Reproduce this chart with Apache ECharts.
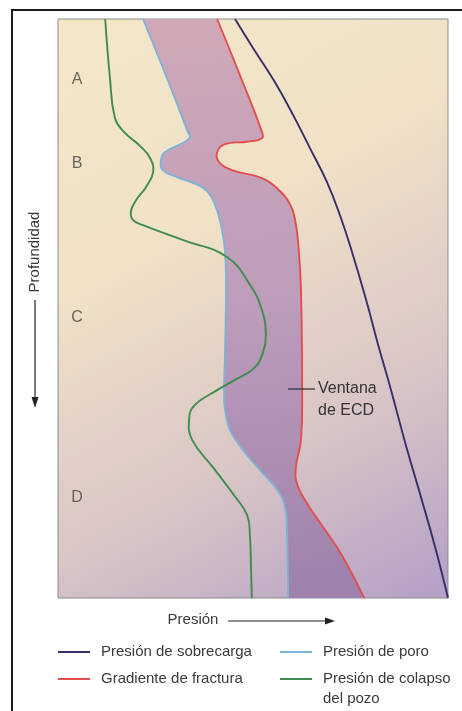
<!DOCTYPE html>
<html>
<head>
<meta charset="utf-8">
<script src="https://cdn.jsdelivr.net/npm/echarts@6/dist/echarts.min.js"></script>
<style>
  html, body { margin: 0; padding: 0; background: #ffffff; }
  #chart { width: 462px; height: 711px; }
</style>
</head>
<body>
<div id="chart"></div>
<script>
// Pressure (0-100, arbitrary units) vs depth (0-100, arbitrary units)
const overburden = [
  [45.4, 0], [50.0, 5.0], [55.6, 10.9], [60.3, 16.6], [64.6, 22.3], [69.0, 28.2],
  [72.3, 33.9], [75.1, 39.6], [79.0, 48.5], [82.1, 56.3], [85.4, 64.1], [89.2, 73.6],
  [93.3, 83.1], [96.9, 91.7], [100, 100]
];
const fracture = [
  [40.8, 0], [46.7, 9.8], [52.3, 19.5], [52.3, 20.6], [48.5, 21.2], [42.8, 21.6],
  [40.8, 23.0], [41.3, 24.7], [44.6, 26.1], [52.3, 27.5], [56.4, 29.4], [59.5, 32.0],
  [60.8, 34.7], [61.7, 39.6], [62.3, 46.8], [62.6, 64.1], [62.3, 72.7], [61.0, 77.4],
  [61.3, 80.3], [63.8, 83.6], [67.2, 87.0], [71.5, 91.2], [74.9, 95.2], [78.5, 100]
];
const pore = [
  [21.8, 0], [27.7, 9.8], [33.3, 19.5], [33.8, 20.4], [32.1, 21.4], [27.4, 23.0],
  [26.4, 24.4], [26.9, 26.1], [30.5, 27.3], [34.6, 28.3], [38.2, 29.7], [40.3, 32.1],
  [41.8, 35.6], [42.8, 39.9], [43.1, 46.8], [42.8, 58.4], [42.6, 65.8], [43.1, 68.4],
  [44.1, 71.0], [47.4, 74.4], [51.8, 77.9], [56.2, 81.3], [58.2, 84.3], [58.7, 88.3],
  [59.0, 100]
];
const collapse = [
  [12.1, 0], [13.3, 10.0], [14.6, 17.1], [16.9, 19.5], [21.0, 21.9], [23.6, 24.0],
  [24.4, 26.4], [22.6, 29.0], [20.0, 31.3], [18.7, 33.2], [19.2, 34.7], [21.8, 35.6],
  [32.1, 38.2], [43.3, 41.1], [49.2, 45.9], [52.3, 50.3], [53.3, 54.6], [52.6, 57.5],
  [50.3, 60.3], [44.9, 62.5], [40.8, 64.1], [34.9, 66.8], [33.6, 69.3], [34.4, 72.7],
  [39.7, 77.4], [45.1, 82.2], [48.5, 85.7], [49.2, 89.1], [49.5, 95.2], [49.7, 100]
];
const zoneNames = ['A', 'B', 'C', 'D'];
const zoneDepth = [10.5, 24.9, 51.5, 82.6];
const seriesNames = ['Presión de sobrecarga', 'Gradiente de fractura', 'Presión de poro', 'Presión de colapso del pozo'];

const FONT = "'Liberation Sans', Arial, 'DejaVu Sans', sans-serif";
const TXT = '#3a3a3a';
const COLORS = ['#35306a', '#e24e50', '#7db2d6', '#3f8c4e'];
const ZONE_X = 4.9;
const SMOOTH = 0.45;

const chart = echarts.init(document.getElementById('chart'), null, { renderer: 'canvas' });

function curveSeries(name, pts, color) {
  return {
    type: 'custom', name: name, silent: true, z: 3,
    data: [[0, 0]],
    itemStyle: { color: color },
    renderItem: function (params, api) {
      return {
        type: 'polyline',
        shape: { points: pts.map(function (p) { return api.coord(p); }), smooth: SMOOTH },
        style: { stroke: color, lineWidth: 1.9, fill: 'none' }
      };
    }
  };
}

const legendCommon = {
  orient: 'vertical', icon: 'rect', itemWidth: 32, itemHeight: 2, padding: 0,
  itemGap: 7, selectedMode: false,
  itemStyle: { borderWidth: 0 },
  textStyle: { fontFamily: FONT, fontSize: 15, color: TXT, lineHeight: 20, padding: [0, 0, 0, 6] }
};

const option = {
  animation: false,
  backgroundColor: '#ffffff',
  grid: {
    left: 58, right: 14, top: 19, bottom: 113,
    show: true, borderColor: '#8a8a8a', borderWidth: 1,
    backgroundColor: new echarts.graphic.LinearGradient(0.1, 0, 0.9, 1, [
      { offset: 0, color: '#f3e7c8' },
      { offset: 0.35, color: '#f0e1c7' },
      { offset: 0.7, color: '#d9c6c6' },
      { offset: 1, color: '#b6a2c6' }
    ])
  },
  xAxis: {
    type: 'value', min: 0, max: 100,
    axisLine: { show: false }, axisTick: { show: false }, axisLabel: { show: false }, splitLine: { show: false }
  },
  yAxis: {
    type: 'value', min: 0, max: 100, inverse: true,
    axisLine: { show: false }, axisTick: { show: false }, axisLabel: { show: false }, splitLine: { show: false }
  },
  legend: [
    Object.assign({}, legendCommon, { left: 58, top: 642, data: [seriesNames[0], seriesNames[1]] }),
    Object.assign({}, legendCommon, { left: 280, top: 642, data: [seriesNames[2]] }),
    Object.assign({}, legendCommon, {
      left: 280, top: 649, data: [seriesNames[3]],
      formatter: function (n) { return '\n' + n.replace(' del pozo', '\ndel pozo'); }
    })
  ],
  series: [
    {
      type: 'custom', name: 'Ventana de ECD', silent: true, z: 1,
      data: [[0, 0]],
      renderItem: function (params, api) {
        const b = pore.map(function (p) { return api.coord(p); });
        const r = fracture.slice().reverse().map(function (p) { return api.coord(p); });
        const pts = [b[0]].concat(b, [b[b.length - 1]], [r[0]], r, [r[r.length - 1]]);
        return {
          type: 'polygon',
          shape: { points: pts, smooth: SMOOTH },
          style: {
            fill: new echarts.graphic.LinearGradient(0, 0, 0.3, 1, [
              { offset: 0, color: '#d0a8b7' },
              { offset: 0.5, color: '#bd9dbb' },
              { offset: 1, color: '#9f82ac' }
            ]),
            stroke: 'none'
          }
        };
      }
    },
    curveSeries(seriesNames[0], overburden, COLORS[0]),
    curveSeries(seriesNames[1], fracture, COLORS[1]),
    curveSeries(seriesNames[2], pore, COLORS[2]),
    curveSeries(seriesNames[3], collapse, COLORS[3]),
    {
      type: 'scatter', name: 'zonas', symbolSize: 0, silent: true, z: 4,
      data: zoneDepth.map(function (d, i) { return { name: zoneNames[i], value: [ZONE_X, d] }; }),
      label: { show: true, position: 'inside', formatter: '{b}', fontFamily: FONT, fontSize: 16,
        color: '#454545', textBorderWidth: 0, textBorderColor: 'transparent' }
    }
  ],
  graphic: [
    { type: 'rect', silent: true, z: 100, shape: { x: 12, y: 10, width: 470, height: 720 },
      style: { fill: 'none', stroke: '#1c1c1c', lineWidth: 2 } },
    { type: 'text', x: 35, y: 252, rotation: Math.PI / 2, silent: true,
      style: { text: 'Profundidad', align: 'center', verticalAlign: 'middle', fontFamily: FONT, fontSize: 15, fill: TXT } },
    { type: 'line', silent: true, shape: { x1: 35, y1: 300, x2: 35, y2: 400 }, style: { stroke: '#222', lineWidth: 1.2 } },
    { type: 'polygon', silent: true, shape: { points: [[31.5, 397], [38.5, 397], [35, 408]] }, style: { fill: '#222' } },
    { type: 'text', x: 193, y: 620, silent: true,
      style: { text: 'Presión', align: 'center', verticalAlign: 'middle', fontFamily: FONT, fontSize: 15, fill: TXT } },
    { type: 'line', silent: true, shape: { x1: 228, y1: 621, x2: 327, y2: 621 }, style: { stroke: '#222', lineWidth: 1.2 } },
    { type: 'polygon', silent: true, shape: { points: [[325, 617.5], [325, 624.5], [335, 621]] }, style: { fill: '#222' } },
    { type: 'line', silent: true, z: 10, shape: { x1: 288, y1: 389, x2: 315, y2: 389 }, style: { stroke: '#333', lineWidth: 1.3 } },
    { type: 'text', x: 318, y: 378, silent: true, z: 10,
      style: { text: 'Ventana\nde ECD', align: 'left', verticalAlign: 'top', lineHeight: 22, fontFamily: FONT, fontSize: 16, fill: '#333' } }
  ]
};

chart.setOption(option);
</script>
</body>
</html>
